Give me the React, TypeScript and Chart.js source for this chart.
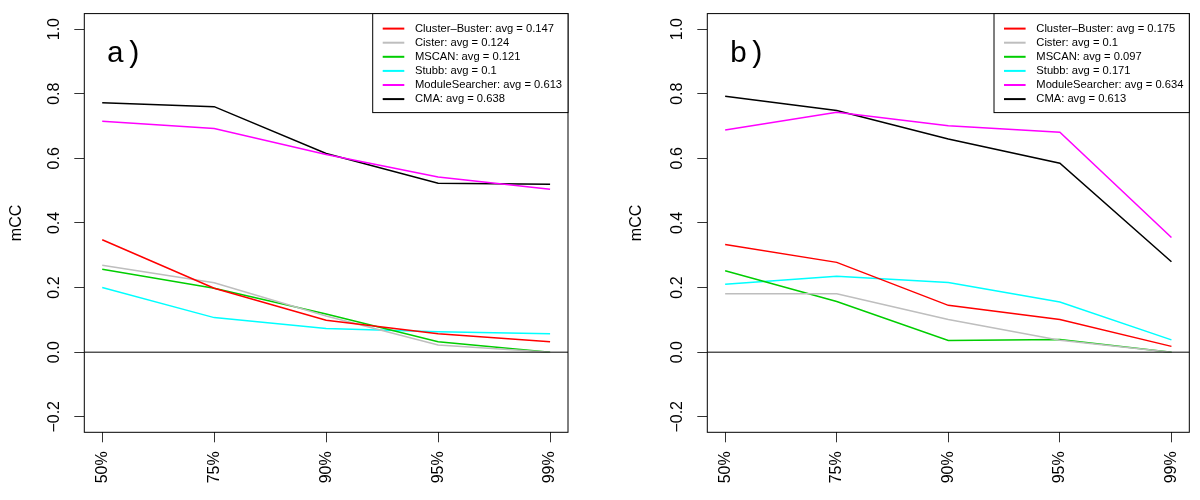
import React, { useEffect, useRef } from 'react';
import { Chart, registerables } from 'chart.js';

Chart.register(...registerables);
Chart.defaults.font.family = '"Liberation Sans", Arial, sans-serif';

// ---- shared axis data ----
const categories = ['50%', '75%', '90%', '95%', '99%'];
const xPositions = [1, 2, 3, 4, 5];
const yTickValues = [-0.2, 0, 0.2, 0.4, 0.6, 0.8, 1.0];
const methods = ['Cluster–Buster', 'Cister', 'MSCAN', 'Stubb', 'ModuleSearcher', 'CMA'];
const colors = ['#FF0000', '#BEBEBE', '#00CD00', '#00FFFF', '#FF00FF', '#000000'];

// ---- panel a ----
const clusterBusterA = [0.348, 0.198, 0.099, 0.057, 0.032];
const cisterA = [0.269, 0.215, 0.112, 0.022, 0.0];
const mscanA = [0.257, 0.198, 0.118, 0.032, 0.0];
const stubbA = [0.2, 0.107, 0.073, 0.063, 0.057];
const moduleSearcherA = [0.715, 0.692, 0.612, 0.542, 0.504];
const cmaA = [0.772, 0.76, 0.615, 0.523, 0.52];
const averagesA = [0.147, 0.124, 0.121, 0.1, 0.613, 0.638];

// ---- panel b ----
const clusterBusterB = [0.333, 0.278, 0.145, 0.101, 0.018];
const cisterB = [0.181, 0.181, 0.101, 0.037, 0.0];
const mscanB = [0.252, 0.157, 0.036, 0.039, 0.0];
const stubbB = [0.21, 0.235, 0.216, 0.155, 0.038];
const moduleSearcherB = [0.688, 0.743, 0.701, 0.681, 0.355];
const cmaB = [0.792, 0.748, 0.66, 0.585, 0.28];
const averagesB = [0.175, 0.1, 0.097, 0.171, 0.634, 0.613];

const fmtY = (v: number) => {
  const s = Math.abs(v).toFixed(1);
  return v < 0 ? '\u2212' + s : s;
};

const panelPlugin = {
  id: 'panelDecor',
  afterDraw(chart: any, _args: any, opts: any) {
    const { ctx, chartArea: a, scales } = chart;
    ctx.save();
    // zero reference line
    const y0 = scales.y.getPixelForValue(0);
    ctx.strokeStyle = '#000';
    ctx.lineWidth = 1;
    ctx.beginPath();
    ctx.moveTo(a.left, y0);
    ctx.lineTo(a.right, y0);
    ctx.stroke();
    // plot box
    ctx.strokeRect(a.left, a.top, a.right - a.left, a.bottom - a.top);

    // panel letter
    ctx.fillStyle = '#000';
    ctx.font = '30px "Liberation Mono", "DejaVu Sans Mono", monospace';
    ctx.textAlign = 'center';
    ctx.textBaseline = 'alphabetic';
    ctx.fillText(opts.letter, scales.x.getPixelForValue(1.2), scales.y.getPixelForValue(0.898));

    // legend
    const lw = 195.3;
    const lh = 99;
    const lx = a.right - lw;
    const ly = a.top;
    ctx.fillStyle = '#fff';
    ctx.fillRect(lx, ly, lw, lh);
    ctx.strokeStyle = '#000';
    ctx.lineWidth = 1;
    ctx.strokeRect(lx, ly, lw, lh);
    ctx.font = '11.2px "Liberation Sans", Arial, sans-serif';
    ctx.textAlign = 'left';
    ctx.textBaseline = 'middle';
    chart.data.datasets.forEach((ds: any, i: number) => {
      const yy = ly + 15 + i * 14.1;
      ctx.strokeStyle = ds.borderColor;
      ctx.lineWidth = 2;
      ctx.beginPath();
      ctx.moveTo(lx + 10, yy);
      ctx.lineTo(lx + 31.6, yy);
      ctx.stroke();
      ctx.fillStyle = '#000';
      ctx.fillText(`${ds.label}: avg = ${opts.averages[i]}`, lx + 42.3, yy);
    });
    ctx.restore();
  },
};

type PanelProps = {
  series: number[][];
  averages: number[];
  letter: string;
  yAxisWidth: number;
  rightPad: number;
  titlePad: number;
};

function Panel({ series, averages, letter, yAxisWidth, rightPad, titlePad }: PanelProps) {
  const ref = useRef<HTMLCanvasElement | null>(null);
  useEffect(() => {
    if (!ref.current) return;
    const chart = new Chart(ref.current, {
      type: 'line',
      data: {
        datasets: series.map((vals, i) => ({
          label: methods[i],
          data: vals.map((v, j) => ({ x: xPositions[j], y: v })),
          borderColor: colors[i],
          backgroundColor: colors[i],
          borderWidth: 1.5,
          pointRadius: 0,
          tension: 0,
          fill: false,
        })),
      },
      options: {
        animation: false,
        responsive: false,
        maintainAspectRatio: false,
        layout: { padding: { top: 10, right: rightPad, left: 0, bottom: 0 } },
        plugins: {
          legend: { display: false },
          tooltip: { enabled: false },
          panelDecor: { letter, averages },
        } as any,
        scales: {
          x: {
            type: 'linear',
            min: 0.84,
            max: 5.16,
            afterBuildTicks: (s: any) => {
              s.ticks = xPositions.map((v) => ({ value: v }));
            },
            afterFit: (s: any) => {
              s.height = 67.7;
            },
            ticks: {
              autoSkip: false,
              minRotation: 90,
              maxRotation: 90,
              padding: 9,
              color: '#000',
              font: { size: 16 },
              callback: (v: any) => {
                const idx = xPositions.indexOf(Number(v));
                return idx >= 0 ? categories[idx] : '';
              },
            },
            grid: { drawOnChartArea: false, drawTicks: true, tickLength: 10, color: '#333', lineWidth: 1 },
            border: { display: false },
          },
          y: {
            type: 'linear',
            min: -0.248,
            max: 1.048,
            afterBuildTicks: (s: any) => {
              s.ticks = yTickValues.map((v) => ({ value: v }));
            },
            afterFit: (s: any) => {
              s.width = yAxisWidth;
            },
            ticks: {
              autoSkip: false,
              minRotation: 90,
              maxRotation: 90,
              crossAlign: 'center',
              padding: 4,
              color: '#000',
              font: { size: 16 },
              callback: (v: any) => fmtY(Number(v)),
            },
            grid: { drawOnChartArea: false, drawTicks: true, tickLength: 10, color: '#333', lineWidth: 1 },
            border: { display: false },
            title: {
              display: true,
              text: 'mCC',
              color: '#000',
              font: { size: 16 },
              padding: { top: titlePad, bottom: 0 },
            },
          },
        },
      } as any,
      plugins: [panelPlugin as any],
    });
    return () => chart.destroy();
  }, []);
  return <canvas ref={ref} width={600} height={500} style={{ width: 600, height: 500, display: 'block' }} />;
}

export default function App() {
  return (
    <div style={{ position: 'absolute', left: 0, top: 0, width: 1200, height: 500, display: 'flex', background: '#fff' }}>
      <Panel
        series={[clusterBusterA, cisterA, mscanA, stubbA, moduleSearcherA, cmaA]}
        averages={averagesA}
        letter="a)"
        yAxisWidth={84.3}
        rightPad={32}
        titlePad={7.4}
      />
      <Panel
        series={[clusterBusterB, cisterB, mscanB, stubbB, moduleSearcherB, cmaB]}
        averages={averagesB}
        letter="b)"
        yAxisWidth={107.3}
        rightPad={9.3}
        titlePad={27.4}
      />
    </div>
  );
}
